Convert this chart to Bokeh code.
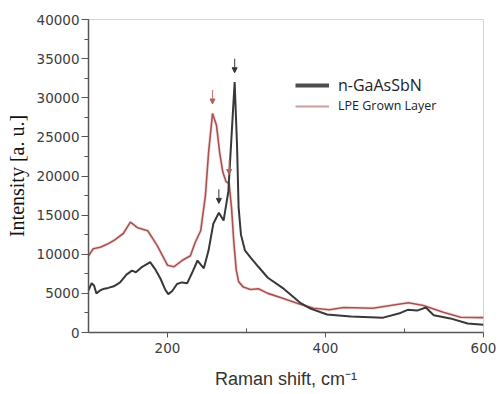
import numpy as np
from bokeh.plotting import figure
from bokeh.models import (ColumnDataSource, FixedTicker, Legend, LegendItem,
                          Arrow, NormalHead, Range1d)
from bokeh.embed import file_html
from bokeh.resources import INLINE

# Raman spectra (shift in cm^-1, intensity in a.u.)
shift_gaassbn = [100, 104, 107, 110, 115, 120, 125, 132, 140, 148, 155, 160, 168, 175, 178,
                 185, 191, 197, 201, 206, 212, 218, 225, 231, 238, 246, 252, 258, 265, 271,
                 277, 281, 285, 288, 290, 293, 298, 305, 315, 327, 347, 368, 381, 402, 432,
                 473, 495, 504, 516, 527, 537, 558, 580, 600]
intensity_gaassbn = [5400, 6300, 6000, 5000, 5400, 5600, 5700, 5900, 6400, 7400, 7900, 7700, 8400, 8800, 9000,
                     8000, 6900, 5500, 4900, 5300, 6200, 6400, 6300, 7600, 9200, 8200, 10500, 13900, 15300, 14300,
                     18000, 25000, 32000, 24000, 16000, 12500, 10500, 9600, 8400, 7000, 5600, 3800, 3050, 2300, 2050,
                     1900, 2500, 2900, 2800, 3200, 2200, 1800, 1150, 1000]

shift_lpe = [100, 106, 115, 124, 132, 144, 153, 162, 175, 187, 200, 208, 220, 229, 235,
             242, 248, 252, 257, 262, 266, 270, 274, 278, 281, 284, 287, 290, 296, 305,
             315, 327, 345, 365, 385, 405, 423, 460, 482, 505, 524, 549, 571, 600]
intensity_lpe = [9800, 10700, 10900, 11300, 11750, 12650, 14100, 13400, 13000, 11100, 8600, 8400, 9300, 9800, 11500,
                 13000, 17500, 23000, 28000, 26500, 23000, 20500, 19300, 19000, 16000, 11500, 8000, 6500, 5800, 5500,
                 5600, 5000, 4400, 3700, 3100, 2900, 3200, 3100, 3450, 3800, 3450, 2600, 1950, 1900]

# Marked bands (arrows above the spectra)
marked_gaassbn = [265, 285]
marked_lpe = [257, 278]

x_ticks = [200, 400, 600]
y_ticks = [0, 5000, 10000, 15000, 20000, 25000, 30000, 35000, 40000]

BLACK = "#383838"
RED = "#a5524f"

p = figure(width=499, height=394, output_backend="svg", toolbar_location=None,
           x_range=Range1d(100, 600), y_range=Range1d(0, 40000),
           min_border_left=88, min_border_right=16, min_border_top=19, min_border_bottom=62)
p.background_fill_color = "white"
p.border_fill_color = "white"
p.outline_line_color = "#d4d4d4"
p.xgrid.visible = False
p.ygrid.visible = False

# soft halo under the LPE spectrum
p.line(shift_lpe, intensity_lpe, line_color="#ecc0c0", line_width=3.5, line_alpha=0.45)
p.line(shift_lpe, intensity_lpe, line_color=RED, line_width=1.6)
p.line(shift_gaassbn, intensity_gaassbn, line_color=BLACK, line_width=2)

# legend keys (styled separately from the spectra, no visible points)
key_gaas = p.line([np.nan], [np.nan], line_color="#4d4d4d", line_width=4)
key_lpe = p.line([np.nan], [np.nan], line_color="#c9a0a0", line_width=2)

# arrows pointing at the marked bands
def arrow_source(xs, shifts, vals, gap, length):
    tips = np.interp(xs, shifts, vals) + gap
    return ColumnDataSource(dict(x0=xs, y0=tips + length, x1=xs, y1=tips))

src_b = arrow_source(marked_gaassbn, shift_gaassbn, intensity_gaassbn, 1200, 1800)
src_r = arrow_source(marked_lpe, shift_lpe, intensity_lpe, 1200, 1800)
p.add_layout(Arrow(source=src_b, x_start="x0", y_start="y0", x_end="x1", y_end="y1",
                   line_color="#555555", line_width=1.2,
                   end=NormalHead(size=5, fill_color="#333333", line_color="#333333")))
p.add_layout(Arrow(source=src_r, x_start="x0", y_start="y0", x_end="x1", y_end="y1",
                   line_color="#c77a76", line_width=1.2,
                   end=NormalHead(size=5, fill_color="#b4605a", line_color="#b4605a")))

# axes
for ax in (p.xaxis[0], p.yaxis[0]):
    ax.axis_line_color = "#555555"
    ax.axis_line_width = 1.5
    ax.major_tick_line_color = "#555555"
    ax.minor_tick_line_color = "#555555"
    ax.major_label_text_font = "DejaVu Sans"
    ax.major_label_text_font_size = "13.5px"
    ax.major_label_text_color = "#3c3c3c"

p.xaxis.ticker = FixedTicker(ticks=x_ticks, minor_ticks=[300, 500])
p.xaxis.major_tick_out = 5
p.xaxis.major_tick_in = 0
p.xaxis.minor_tick_in = 4
p.xaxis.minor_tick_out = 0
p.xaxis.major_label_standoff = 5
p.xaxis.axis_label = "Raman shift, cm\u207b\u00b9"
p.xaxis.axis_label_text_font = "Liberation Sans"
p.xaxis.axis_label_text_font_style = "normal"
p.xaxis.axis_label_text_font_size = "18px"
p.xaxis.axis_label_text_color = "#333333"
p.xaxis.axis_label_standoff = 13

p.yaxis.ticker = FixedTicker(ticks=y_ticks, minor_ticks=list(range(0, 40001, 2500)))
p.yaxis.major_tick_out = 7
p.yaxis.major_tick_in = 0
p.yaxis.minor_tick_out = 4
p.yaxis.minor_tick_in = 0
p.yaxis.major_label_standoff = 2
p.yaxis.axis_label = "Intensity [a. u.]"
p.yaxis.axis_label_text_font = "Liberation Serif"
p.yaxis.axis_label_text_font_style = "normal"
p.yaxis.axis_label_text_font_size = "20px"
p.yaxis.axis_label_text_color = "#111111"
p.yaxis.axis_label_standoff = 6

# two legend entries, each with its own font size
def make_legend(label, renderer, y, size):
    return Legend(items=[LegendItem(label=label, renderers=[renderer])],
                  location=(207, y), padding=0, margin=0, spacing=0,
                  glyph_width=34, glyph_height=16, label_height=16, label_standoff=9,
                  border_line_color=None, background_fill_alpha=0,
                  label_text_font="Open Sans", label_text_font_size=size,
                  label_text_color="#222222")

p.add_layout(make_legend("n-GaAsSbN", key_gaas, 236, "16px"))
p.add_layout(make_legend("LPE Grown Layer", key_lpe, 218, "12.5px"))

open("out.html", "w").write(file_html(p, INLINE))
